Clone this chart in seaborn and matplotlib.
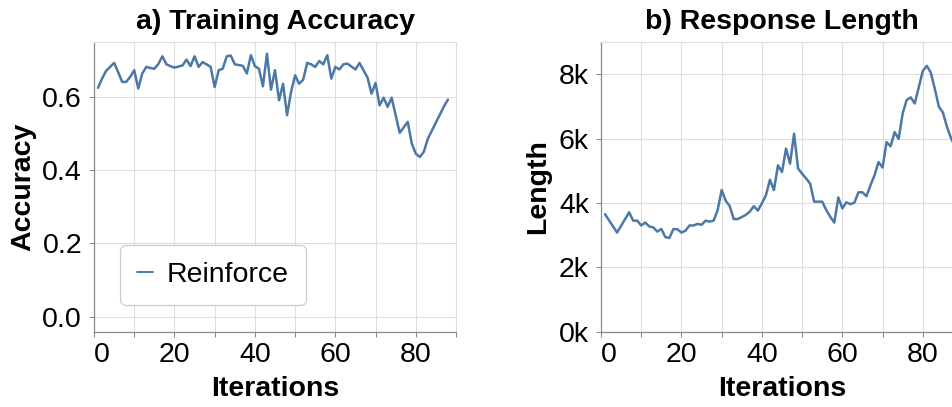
import numpy as np
import pandas as pd
import matplotlib
matplotlib.use("Agg")
import matplotlib.pyplot as plt
import seaborn as sns
from matplotlib.ticker import FuncFormatter

# data
iterations = list(range(1, 89))
accuracy = [
    0.625, 0.650, 0.671, 0.682, 0.693, 0.668, 0.641, 0.641, 0.655, 0.673,
    0.623, 0.664, 0.682, 0.679, 0.677, 0.690, 0.711, 0.689, 0.684, 0.680,
    0.683, 0.686, 0.702, 0.684, 0.711, 0.682, 0.695, 0.689, 0.682, 0.627,
    0.673, 0.677, 0.711, 0.713, 0.689, 0.687, 0.685, 0.664, 0.714, 0.684,
    0.677, 0.629, 0.718, 0.620, 0.673, 0.591, 0.636, 0.550, 0.614, 0.659,
    0.636, 0.647, 0.693, 0.689, 0.682, 0.698, 0.689, 0.714, 0.650, 0.682,
    0.675, 0.689, 0.691, 0.683, 0.675, 0.693, 0.673, 0.653, 0.609, 0.638,
    0.577, 0.598, 0.573, 0.598, 0.550, 0.502, 0.517, 0.532, 0.473, 0.445,
    0.436, 0.450, 0.486, 0.508, 0.530, 0.552, 0.574, 0.593]
length = [
    3650, 3460, 3270, 3080, 3290, 3500, 3710, 3450, 3450, 3300,
    3390, 3270, 3240, 3110, 3190, 2940, 2910, 3190, 3180, 3080,
    3140, 3300, 3300, 3350, 3320, 3450, 3420, 3450, 3780, 4400,
    4070, 3900, 3500, 3500, 3560, 3630, 3730, 3900, 3760, 3990,
    4240, 4720, 4400, 5170, 4960, 5690, 5220, 6150, 5070, 4910,
    4760, 4600, 4040, 4040, 4040, 3780, 3570, 3390, 4170, 3830,
    4020, 3960, 4010, 4330, 4330, 4210, 4550, 4860, 5270, 5100,
    5890, 5760, 6200, 5990, 6780, 7200, 7280, 7090, 7590, 8100,
    8260, 8050, 7540, 6990, 6810, 6370, 6020, 5750]
method = "Reinforce"

df = pd.DataFrame({"Iterations": iterations, "Accuracy": accuracy,
                   "Length": length, "Method": method})

BLUE = "#4c78a8"
GRID = "#dddddd"
AXIS = "#888888"
FS = 20.5

sns.set_theme(style="whitegrid")
plt.rcParams["font.family"] = ["Liberation Sans", "DejaVu Sans"]
plt.rcParams["text.color"] = "black"
plt.rcParams["axes.labelcolor"] = "black"

fig = plt.figure(figsize=(9.52, 4.07), dpi=100)
ax1 = fig.add_axes([94 / 952, 75.3 / 407, 362 / 952, 289.7 / 407])
ax2 = fig.add_axes([601 / 952, 75.3 / 407, 362 / 952, 289.7 / 407])

sns.lineplot(data=df, x="Iterations", y="Accuracy", hue="Method",
             palette=[BLUE], linewidth=1.8, ax=ax1)
sns.lineplot(data=df, x="Iterations", y="Length", color=BLUE,
             linewidth=1.8, ax=ax2)


def style(ax, title, ylabel, ylabel_x):
    ax.set_facecolor("white")
    ax.set_xlim(0, 90)
    ax.set_xticks(range(0, 91, 10))
    ax.set_xticklabels([str(v) if v % 20 == 0 and v < 90 else "" for v in range(0, 91, 10)])
    ax.get_xticklabels()[0].set_horizontalalignment("left")
    ax.grid(True, color=GRID, linewidth=0.75)
    ax.tick_params(axis="both", labelsize=FS, colors=AXIS, labelcolor="black",
                   length=3.6, width=0.75, bottom=True, left=True)
    ax.tick_params(axis="y", pad=5)
    ax.tick_params(axis="x", pad=4)
    for side in ["left", "bottom"]:
        ax.spines[side].set_color(AXIS)
        ax.spines[side].set_linewidth(0.9)
    for side in ["top", "right"]:
        ax.spines[side].set_color(GRID)
        ax.spines[side].set_linewidth(0.75)
    ax.set_title(title, fontsize=FS, fontweight="bold", pad=0, y=1.045, color="black")
    ax.set_xlabel("Iterations", fontsize=FS, fontweight="bold", va="center")
    ax.xaxis.set_label_coords(0.5, -0.197)
    ax.set_ylabel(ylabel, fontsize=FS, fontweight="bold", va="center")
    ax.yaxis.set_label_coords(ylabel_x, 0.5)


style(ax1, "a) Training Accuracy", "Accuracy", -0.196)
ax1.set_ylim(-0.041, 0.75)
ax1.set_yticks([0.0, 0.2, 0.4, 0.6])
ax1.yaxis.set_major_formatter(FuncFormatter(lambda v, p: f"{v:.1f}"))

style(ax2, "b) Response Length", "Length", -0.174)
ax2.set_ylim(0, 9000)
ax2.set_yticks([0, 2000, 4000, 6000, 8000])
ax2.yaxis.set_major_formatter(FuncFormatter(lambda v, p: f"{v / 1000:.0f}k"))

leg = ax1.legend(loc="lower left", bbox_to_anchor=(0.072, 0.092),
                 borderaxespad=0, fontsize=FS, frameon=True, fancybox=True,
                 handlelength=0.55, handletextpad=0.5, borderpad=0.6,
                 edgecolor="#cccccc", facecolor="white", framealpha=1)
leg.get_frame().set_linewidth(0.9)
for h in leg.get_lines():
    h.set_linewidth(1.4)

fig.savefig("out.png", dpi=100)
